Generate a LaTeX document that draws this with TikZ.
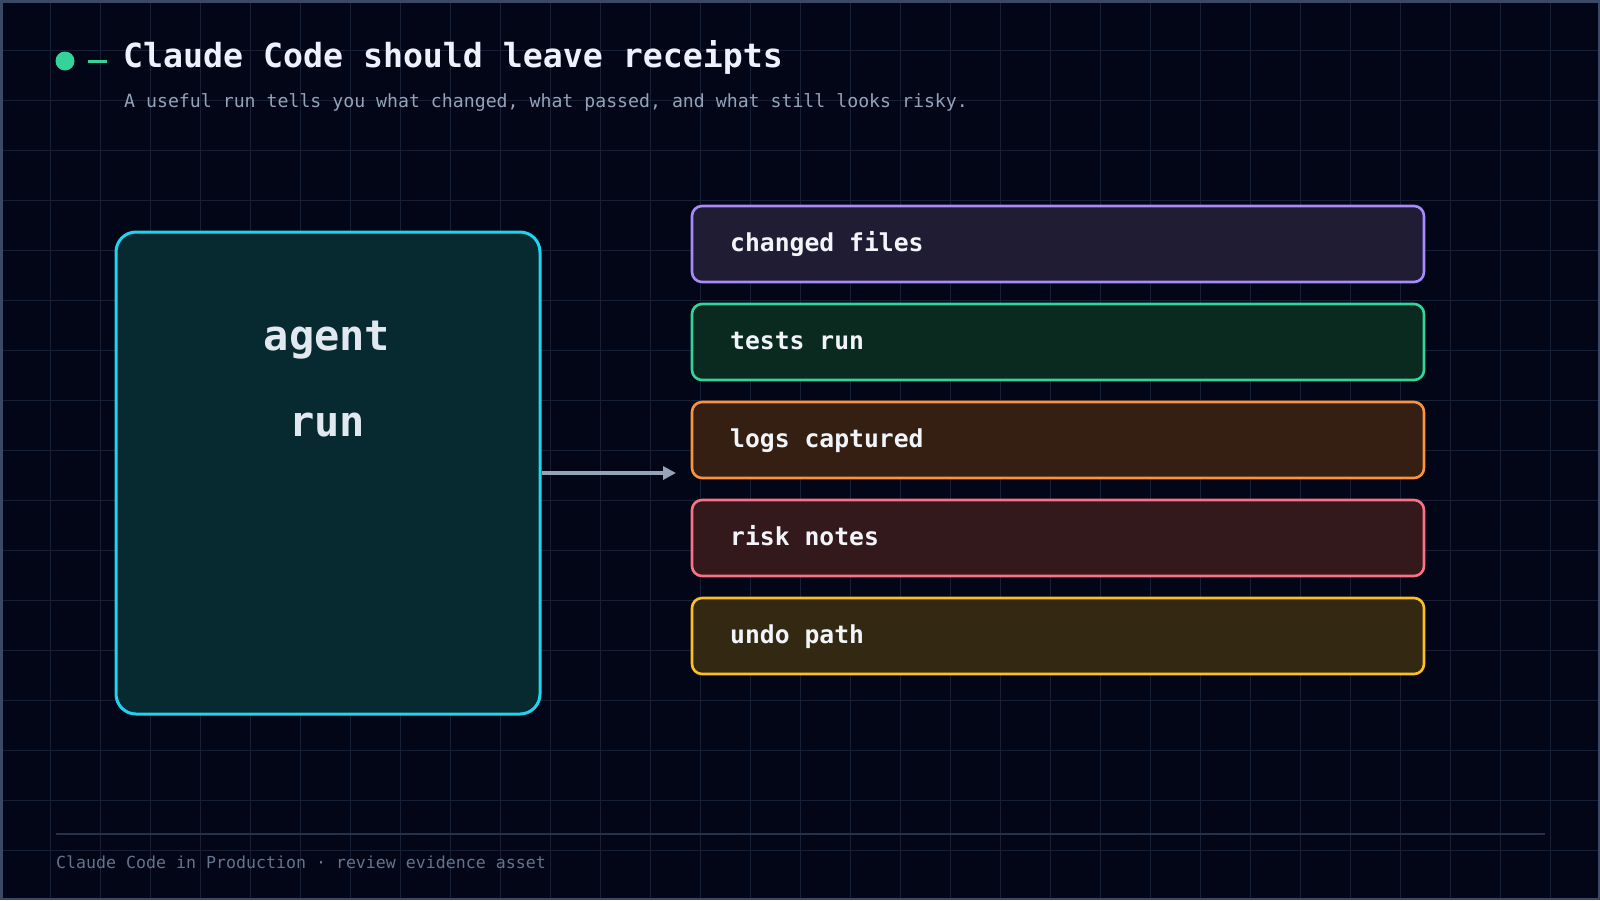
\documentclass[tikz,border=0pt]{standalone}
\usepackage{fontspec}
\setmonofont{DejaVu Sans Mono}
\usetikzlibrary{arrows.meta}
\definecolor{bg}{HTML}{020617}
\definecolor{gridc}{HTML}{172035}
\definecolor{framec}{HTML}{3A4A66}
\definecolor{dotc}{HTML}{34D399}
\definecolor{titlec}{HTML}{EEF2FF}
\definecolor{subc}{HTML}{94A3B8}
\definecolor{footc}{HTML}{64748B}
\definecolor{footline}{HTML}{27324A}
\definecolor{cyanb}{HTML}{22D3EE}
\definecolor{cyanf}{HTML}{072A31}
\definecolor{agentt}{HTML}{E2E8F0}
\definecolor{arrowc}{HTML}{94A3B8}
\definecolor{purb}{HTML}{A78BFA}\definecolor{purf}{HTML}{201C33}
\definecolor{grnb}{HTML}{34D399}\definecolor{grnf}{HTML}{0A2A1F}
\definecolor{orgb}{HTML}{FB923C}\definecolor{orgf}{HTML}{341F12}
\definecolor{redb}{HTML}{FB7185}\definecolor{redf}{HTML}{33181C}
\definecolor{ylwb}{HTML}{FBBF24}\definecolor{ylwf}{HTML}{332812}
\definecolor{itemt}{HTML}{F1F5F9}
\tikzset{
  agentbox/.style={draw=cyanb, fill=cyanf, line width=3pt, rounded corners=20pt,
    minimum width=424pt, minimum height=482pt, inner sep=0pt},
  itembox/.style={line width=2.6pt, rounded corners=10pt,
    minimum width=732pt, minimum height=76pt, inner sep=0pt},
  itemtext/.style={anchor=base west, inner sep=0pt, text=itemt,
    font=\ttfamily\bfseries\fontsize{24.7}{28}\selectfont},
  agenttext/.style={anchor=base, inner sep=0pt, text=agentt,
    font=\ttfamily\bfseries\fontsize{42}{48}\selectfont},
  flow/.style={draw=arrowc, line width=3.5pt, -{Triangle[length=13pt,width=13pt]}}
}
\begin{document}
\begin{tikzpicture}[x=1pt,y=-1pt]
\useasboundingbox (0,0) rectangle (1600,900);
\fill[bg] (0,0) rectangle (1600,900);
\foreach \x in {50,100,...,1550} \draw[gridc, line width=1pt] (\x,0) -- (\x,900);
\foreach \y in {50,100,...,850} \draw[gridc, line width=1pt] (0,\y) -- (1600,\y);
\draw[framec, line width=2.5pt] (1.25,1.25) rectangle (1598.75,898.75);
% header
\fill[dotc] (65,61) circle (9.5pt);
\draw[dotc, line width=3pt] (88,61) -- (107,61);
\node[anchor=base west, inner sep=0pt, text=titlec, font=\ttfamily\bfseries\fontsize{33.2}{40}\selectfont] (title) at (123,67) {Claude Code should leave receipts};
\node[anchor=base west, inner sep=0pt, text=subc, font=\ttfamily\fontsize{18.2}{22}\selectfont] (sub) at (124,107) {A useful run tells you what changed, what passed, and what still looks risky.};
% agent box
\node[agentbox] (agent) at (328,473) {};
\node[agenttext] (agentA) at (327,350) {agent};
\node[agenttext] (agentB) at (327,436) {run};
% items
\node[itembox, draw=purb, fill=purf] (b1) at (1058,244) {};
\node[itembox, draw=grnb, fill=grnf] (b2) at (1058,342) {};
\node[itembox, draw=orgb, fill=orgf] (b3) at (1058,440) {};
\node[itembox, draw=redb, fill=redf] (b4) at (1058,538) {};
\node[itembox, draw=ylwb, fill=ylwf] (b5) at (1058,636) {};
\node[itemtext] (t1) at (730,251) {changed files};
\node[itemtext] (t2) at (730,349) {tests run};
\node[itemtext] (t3) at (730,447) {logs captured};
\node[itemtext] (t4) at (730,545) {risk notes};
\node[itemtext] (t5) at (730,643) {undo path};
% arrow
\coordinate (aend) at (676,473);
\draw[flow] (agent.east) -- (aend);
% footer
\coordinate (fl1) at (56,834);
\coordinate (fl2) at (1545,834);
\draw[footline, line width=1.5pt] (fl1) -- (fl2);
\node[anchor=base west, inner sep=0pt, text=footc, font=\ttfamily\fontsize{16.6}{20}\selectfont] (foot) at (56,868) {Claude Code in Production · review evidence asset};
\end{tikzpicture}
\end{document}
